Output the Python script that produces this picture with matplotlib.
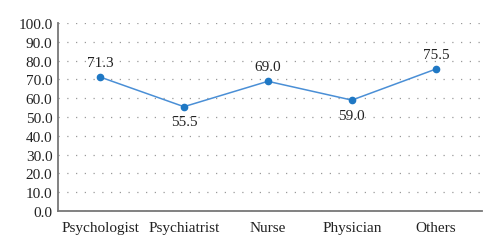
import matplotlib.pyplot as plt
import numpy as np

categories = ["Psychologist", "Psychiatrist", "Nurse", "Physician", "Others"]
values = [71.3, 55.5, 69.0, 59.0, 75.5]
label_above = [True, False, True, False, True]

plt.rcParams['font.family'] = ['Liberation Serif', 'DejaVu Serif']

fig = plt.figure(figsize=(5, 2.53), dpi=100)
ax = fig.add_axes([0.116, 0.162, 0.848, 0.743])

x = np.arange(len(categories))
ax.plot(x, values, color='#4a8fd6', linewidth=1.1, marker='o', markersize=4.5,
        markerfacecolor='#1f78c4', markeredgecolor='#1f78c4', zorder=3)

for xi, v, up in zip(x, values, label_above):
    ax.annotate(f"{v:.1f}", (xi, v), xytext=(0, 10.5 if up else -11),
                textcoords='offset points', ha='center',
                va='center', fontsize=11, color='#222222')

ax.set_xlim(-0.5, 4.55)
ax.set_ylim(0, 100)
ax.set_yticks(np.arange(0, 101, 10))
ax.set_yticklabels([f"{t:.1f}" for t in np.arange(0, 101, 10)])
ax.set_xticks(x)
ax.set_xticklabels(categories)
ax.tick_params(length=0, labelsize=11, colors='#222222', pad=4)
ax.tick_params(axis='x', pad=7)

ax.grid(axis='y', linestyle=(0, (1, 6)), color='#999999', linewidth=0.9)
ax.set_axisbelow(True)
for s in ['top', 'right']:
    ax.spines[s].set_visible(False)
for s in ['left', 'bottom']:
    ax.spines[s].set_color('#777777')
    ax.spines[s].set_linewidth(1.3)

fig.savefig('out.png', dpi=100)
